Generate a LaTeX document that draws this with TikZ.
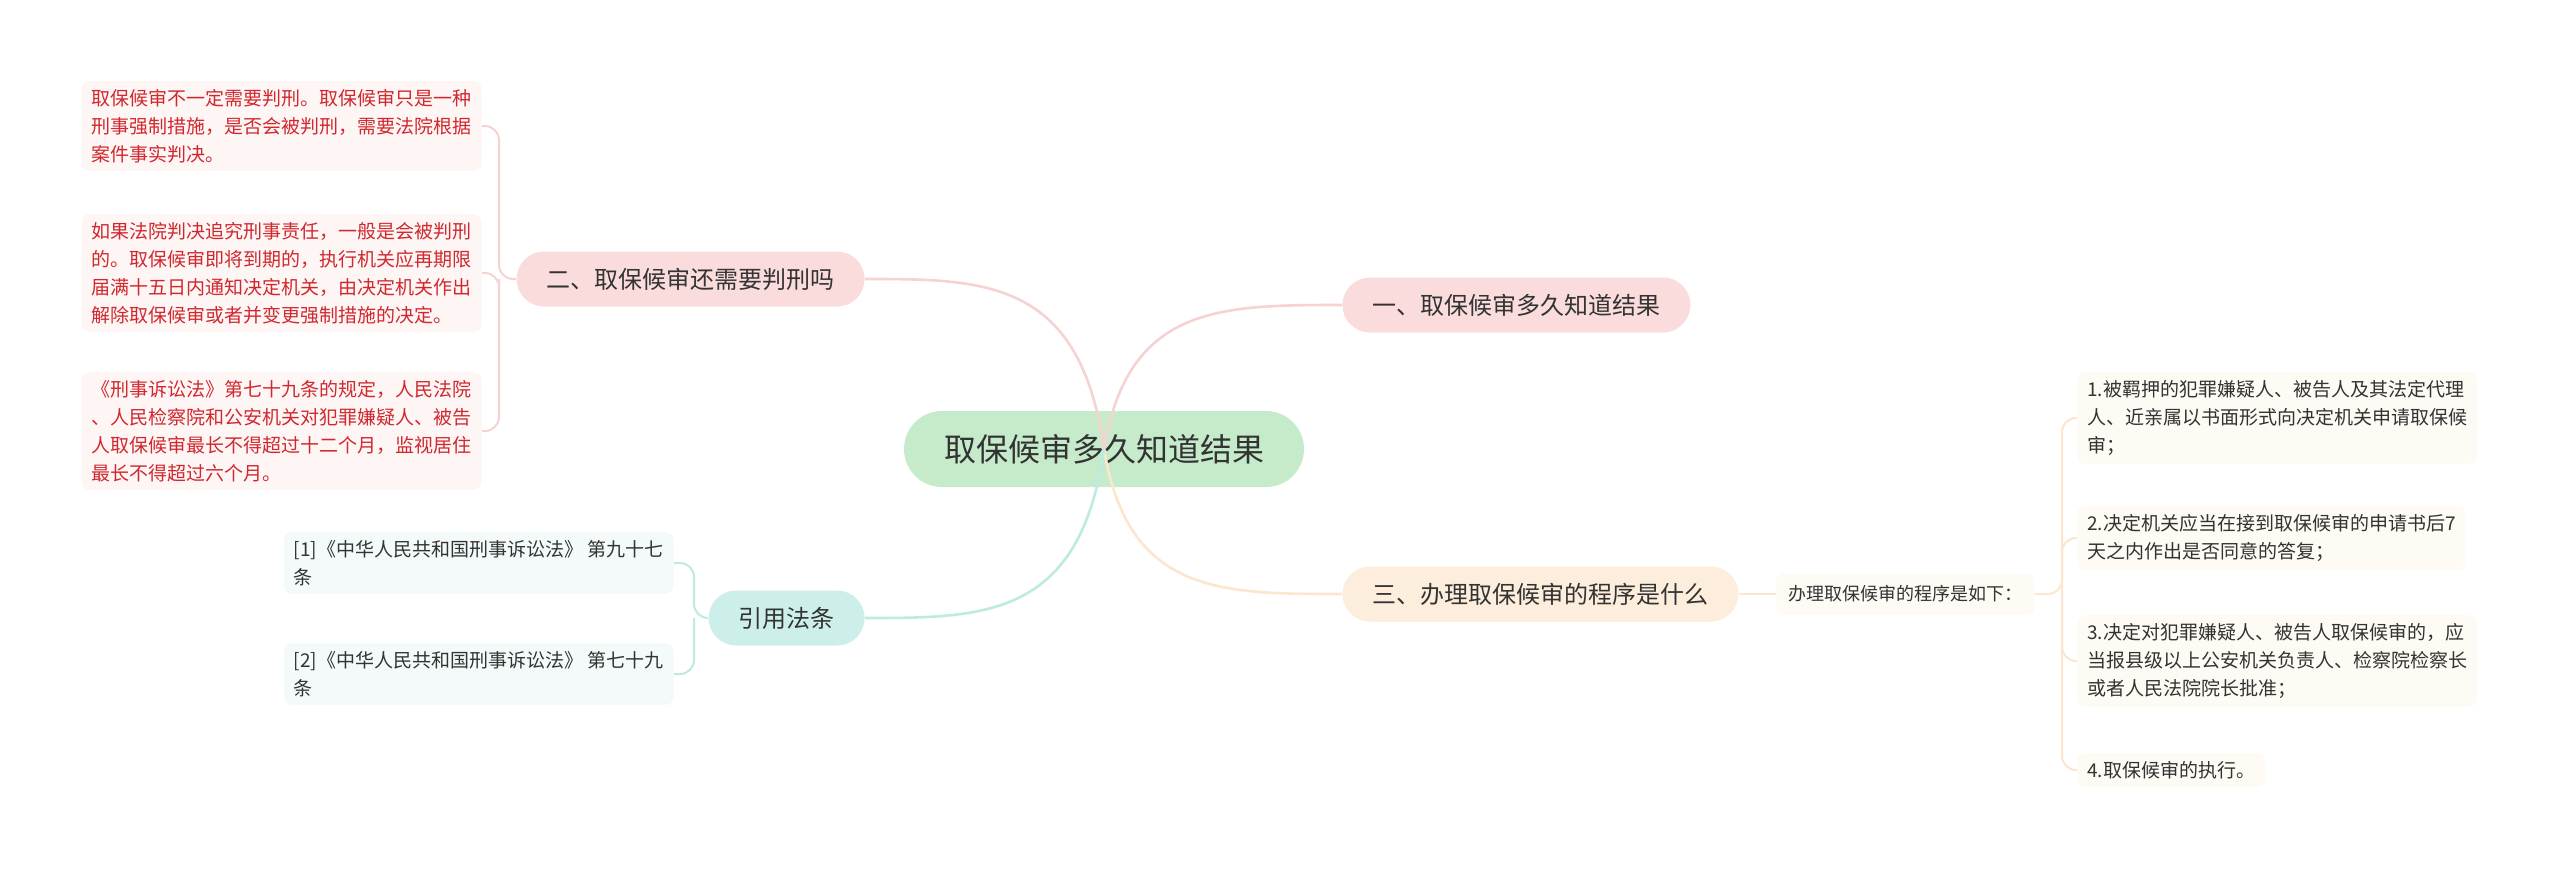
\documentclass[tikz,border=0pt]{standalone}
\usepackage{fontspec}
\setmainfont{Noto Sans CJK SC}

\definecolor{textgray}{HTML}{333333}
\definecolor{leafred}{HTML}{D0282E}
\definecolor{rootfill}{HTML}{C6EBCB}
\definecolor{pinkfill}{HTML}{FADCDC}
\definecolor{peachfill}{HTML}{FDEDDC}
\definecolor{tealfill}{HTML}{CDEFEA}
\definecolor{pinkleaf}{HTML}{FEF5F5}
\definecolor{peachleaf}{HTML}{FEFAF4}
\definecolor{tealleaf}{HTML}{F3FAF9}
\definecolor{pinkline}{HTML}{F7D2D2}
\definecolor{peachline}{HTML}{FCE6CE}
\definecolor{tealline}{HTML}{BDEAE1}

\tikzset{
  rootnode/.style={fill=rootfill, rounded corners=19pt, minimum height=38pt,
    inner xsep=20pt, text=textgray, font=\fontsize{16}{19}\selectfont},
  topicnode/.style={rounded corners=13.75pt, minimum height=27.5pt,
    inner xsep=15pt, text=textgray, font=\fontsize{12}{14}\selectfont},
  leafnode/.style={rounded corners=4pt, inner xsep=5pt, inner ysep=4pt,
    align=left, text=textgray, font=\fontsize{9.5}{14}\selectfont},
  redleaf/.style={leafnode, fill=pinkleaf, text=leafred},
  creamleaf/.style={leafnode, fill=peachleaf},
  refleaf/.style={leafnode, fill=tealleaf},
  mainlink/.style={line width=1.3pt},
  sublink/.style={line width=1pt, rounded corners=7pt}
}

\begin{document}
\begin{tikzpicture}[x=0.5pt,y=-0.5pt]
  \useasboundingbox[fill=white] (0,0) rectangle (2560,873);

  % centre and main topics
  \node[rootnode] (root) at (1104,449) {取保候审多久知道结果};
  \node[topicnode, fill=pinkfill, anchor=west] (n1) at (1342,305) {一、取保候审多久知道结果};
  \node[topicnode, fill=pinkfill, anchor=east] (n2) at (865,279) {二、取保候审还需要判刑吗};
  \node[topicnode, fill=peachfill, anchor=west] (n3) at (1342,594) {三、办理取保候审的程序是什么};
  \node[topicnode, fill=tealfill, anchor=east] (n4) at (865,618) {引用法条};

  % left leaves
  \node[redleaf, anchor=east] (la) at (482,126) {取保候审不一定需要判刑。取保候审只是一种\\刑事强制措施，是否会被判刑，需要法院根据\\案件事实判决。};
  \node[redleaf, anchor=east] (lb) at (482,273) {如果法院判决追究刑事责任，一般是会被判刑\\的。取保候审即将到期的，执行机关应再期限\\届满十五日内通知决定机关，由决定机关作出\\解除取保候审或者并变更强制措施的决定。};
  \node[redleaf, anchor=east] (lc) at (482,431) {《刑事诉讼法》第七十九条的规定，人民法院\\、人民检察院和公安机关对犯罪嫌疑人、被告\\人取保候审最长不得超过十二个月，监视居住\\最长不得超过六个月。};

  % references
  \node[refleaf, anchor=east] (r1) at (674,563) {[1]《中华人民共和国刑事诉讼法》 第九十七\\条};
  \node[refleaf, anchor=east] (r2) at (674,674) {[2]《中华人民共和国刑事诉讼法》 第七十九\\条};

  % procedure
  \node[leafnode, fill=peachleaf, font=\fontsize{9}{12}\selectfont, inner xsep=6pt,
    minimum height=20.5pt, anchor=west] (p0) at (1776,594) {办理取保候审的程序是如下：};
  \node[creamleaf, anchor=west] (s1) at (2077,418) {1.被羁押的犯罪嫌疑人、被告人及其法定代理\\人、近亲属以书面形式向决定机关申请取保候\\审；};
  \node[creamleaf, anchor=west] (s2) at (2077,538) {2.决定机关应当在接到取保候审的申请书后7\\天之内作出是否同意的答复；};
  \node[creamleaf, anchor=west] (s3) at (2077,661) {3.决定对犯罪嫌疑人、被告人取保候审的，应\\当报县级以上公安机关负责人、检察院检察长\\或者人民法院院长批准；};
  \node[creamleaf, anchor=west] (s4) at (2077,770) {4.取保候审的执行。};

  % junctions
  \coordinate (j2) at (499,279);
  \coordinate (j4) at (694,618);
  \coordinate (j5) at (2062,594);

  % main links
  \draw[mainlink, pinkline] (root.center) .. controls (1128,305) and (1220,305) .. (n1.west);
  \draw[mainlink, pinkline] (root.center) .. controls (1080,279) and (985,279) .. (n2.east);
  \draw[mainlink, peachline] (root.center) .. controls (1128,594) and (1220,594) .. (n3.west);
  \draw[mainlink, tealline] (root.center) .. controls (1080,618) and (985,618) .. (n4.east);

  % sub links
  \draw[sublink, pinkline] (n2.west) -- (j2) |- (la.east);
  \draw[sublink, pinkline] (j2) |- (lb.east);
  \draw[sublink, pinkline] (j2) |- (lc.east);
  \draw[sublink, tealline] (n4.west) -- (j4) |- (r1.east);
  \draw[sublink, tealline] (j4) |- (r2.east);
  \draw[sublink, peachline] (n3.east) -- (p0.west);
  \draw[sublink, peachline] (p0.east) -- (j5) |- (s1.west);
  \draw[sublink, peachline] (j5) |- (s2.west);
  \draw[sublink, peachline] (j5) |- (s3.west);
  \draw[sublink, peachline] (j5) |- (s4.west);
\end{tikzpicture}
\end{document}
